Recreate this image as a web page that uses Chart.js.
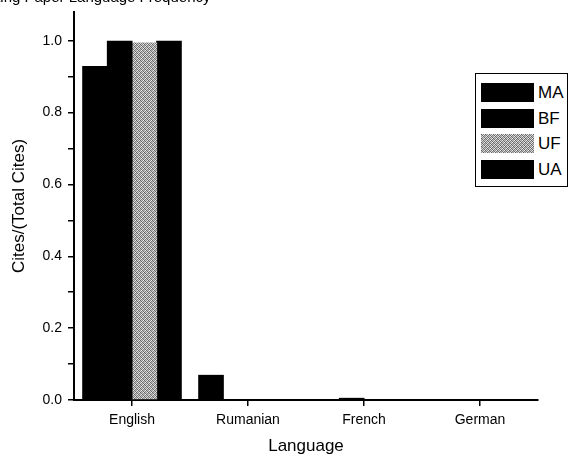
<!DOCTYPE html>
<html>
<head>
<meta charset="utf-8">
<script src="https://cdn.jsdelivr.net/npm/chart.js@4/dist/chart.umd.min.js"></script>
<style>
  body { margin: 0; background: #fff; }
  #wrap { position: relative; width: 568px; height: 458px; overflow: hidden; font-family: "Liberation Sans", Arial, sans-serif; }
  #title { position: absolute; left: -18px; top: -11px; font-size: 15px; line-height: 15px; white-space: nowrap; color: #000; }
  #legend { position: absolute; left: 475px; top: 73px; width: 91px; height: 112px; border: 1.5px solid #000; background: #fff; }
  .item { position: absolute; left: 5px; height: 19px; }
  .swatch { position: absolute; left: 0; top: 0; width: 53px; height: 19px; }
  .label { position: absolute; left: 57px; top: 0px; font-size: 17px; line-height: 19px; color: #000; }
</style>
</head>
<body>
<div id="wrap">
  <canvas id="chart" width="568" height="458"></canvas>
  <div id="title">Citing Paper Language Frequency</div>
  <div id="legend"></div>
</div>
<script>
// Categories and series
const languages = ['English', 'Rumanian', 'French', 'German'];
const seriesNames = ['MA', 'BF', 'UF', 'UA'];
const maValues = [0.93, 0.07, 0, 0];
const bfValues = [1.0, 0, 0.006, 0];
const ufValues = [0.995, 0, 0, 0];
const uaValues = [1.0, 0, 0, 0];

// Stippled gray fill for UF
function makeStipple() {
    const c = document.createElement('canvas');
    c.width = 4; c.height = 4;
    const g = c.getContext('2d');
    const shades = [
        '#5e5e5e', '#c8c8c8', '#8a8a8a', '#eeeeee',
        '#bcbcbc', '#707070', '#e0e0e0', '#7c7c7c',
        '#949494', '#e8e8e8', '#646464', '#c0c0c0',
        '#dadada', '#808080', '#d0d0d0', '#6a6a6a'
    ];
    shades.forEach((s, i) => {
        g.fillStyle = s;
        g.fillRect(i % 4, Math.floor(i / 4), 1, 1);
    });
    return c;
}

const stipple = makeStipple();
const ctx = document.getElementById('chart').getContext('2d');
const ufFill = ctx.createPattern(stipple, 'repeat');

const fills = ['#000', '#000', ufFill, '#000'];
const seriesValues = [maValues, bfValues, ufValues, uaValues];

const font = '"Liberation Sans", Arial, sans-serif';

new Chart(ctx, {
    type: 'bar',
    data: {
        labels: languages,
        datasets: seriesNames.map((name, i) => ({
            label: name,
            data: seriesValues[i],
            backgroundColor: fills[i],
            borderWidth: 0,
            barPercentage: 1.04,
            categoryPercentage: 0.85
        }))
    },
    options: {
        responsive: false,
        animation: false,
        devicePixelRatio: 1,
        layout: { padding: { top: 12, right: 30, left: 0, bottom: 0 } },
        plugins: {
            legend: { display: false },
            tooltip: { enabled: false }
        },
        scales: {
            x: {
                afterFit: scale => { scale.height = 58; scale.paddingLeft = 0; scale.paddingRight = 0; },
                grid: { offset: false, drawOnChartArea: false, color: '#000', tickLength: 6, lineWidth: 1.5 },
                border: { color: '#000', width: 2 },
                ticks: { color: '#000', font: { family: font, size: 14 }, padding: 6 },
                title: { display: true, text: 'Language', color: '#000', font: { family: font, size: 17 }, padding: { top: 1, bottom: 1 } }
            },
            y: {
                min: 0,
                max: 1.08,
                afterFit: scale => { scale.width = 74; scale.paddingTop = 0; scale.paddingBottom = 0; },
                grid: { drawOnChartArea: false, color: '#000', tickLength: 6, lineWidth: 1.5 },
                border: { color: '#000', width: 2 },
                ticks: {
                    stepSize: 0.1,
                    includeBounds: false,
                    color: '#000',
                    padding: 6,
                    font: { family: font, size: 14 },
                    callback: v => (Math.round(v * 10) % 2 === 0 ? v.toFixed(1) : '')
                },
                title: { display: true, text: 'Cites/(Total Cites)', color: '#000', font: { family: font, size: 17 }, padding: { top: 9, bottom: 0 } }
            }
        }
    }
});

// Legend built from the series
const legend = document.getElementById('legend');
const stippleUrl = stipple.toDataURL();
seriesNames.forEach((name, i) => {
    const item = document.createElement('div');
    item.className = 'item';
    item.style.top = (9 + i * 25.5) + 'px';
    const sw = document.createElement('div');
    sw.className = 'swatch';
    if (name === 'UF') {
        sw.style.backgroundImage = 'url(' + stippleUrl + ')';
    } else {
        sw.style.background = '#000';
    }
    const lb = document.createElement('div');
    lb.className = 'label';
    lb.textContent = name;
    item.appendChild(sw);
    item.appendChild(lb);
    legend.appendChild(item);
});
</script>
</body>
</html>
